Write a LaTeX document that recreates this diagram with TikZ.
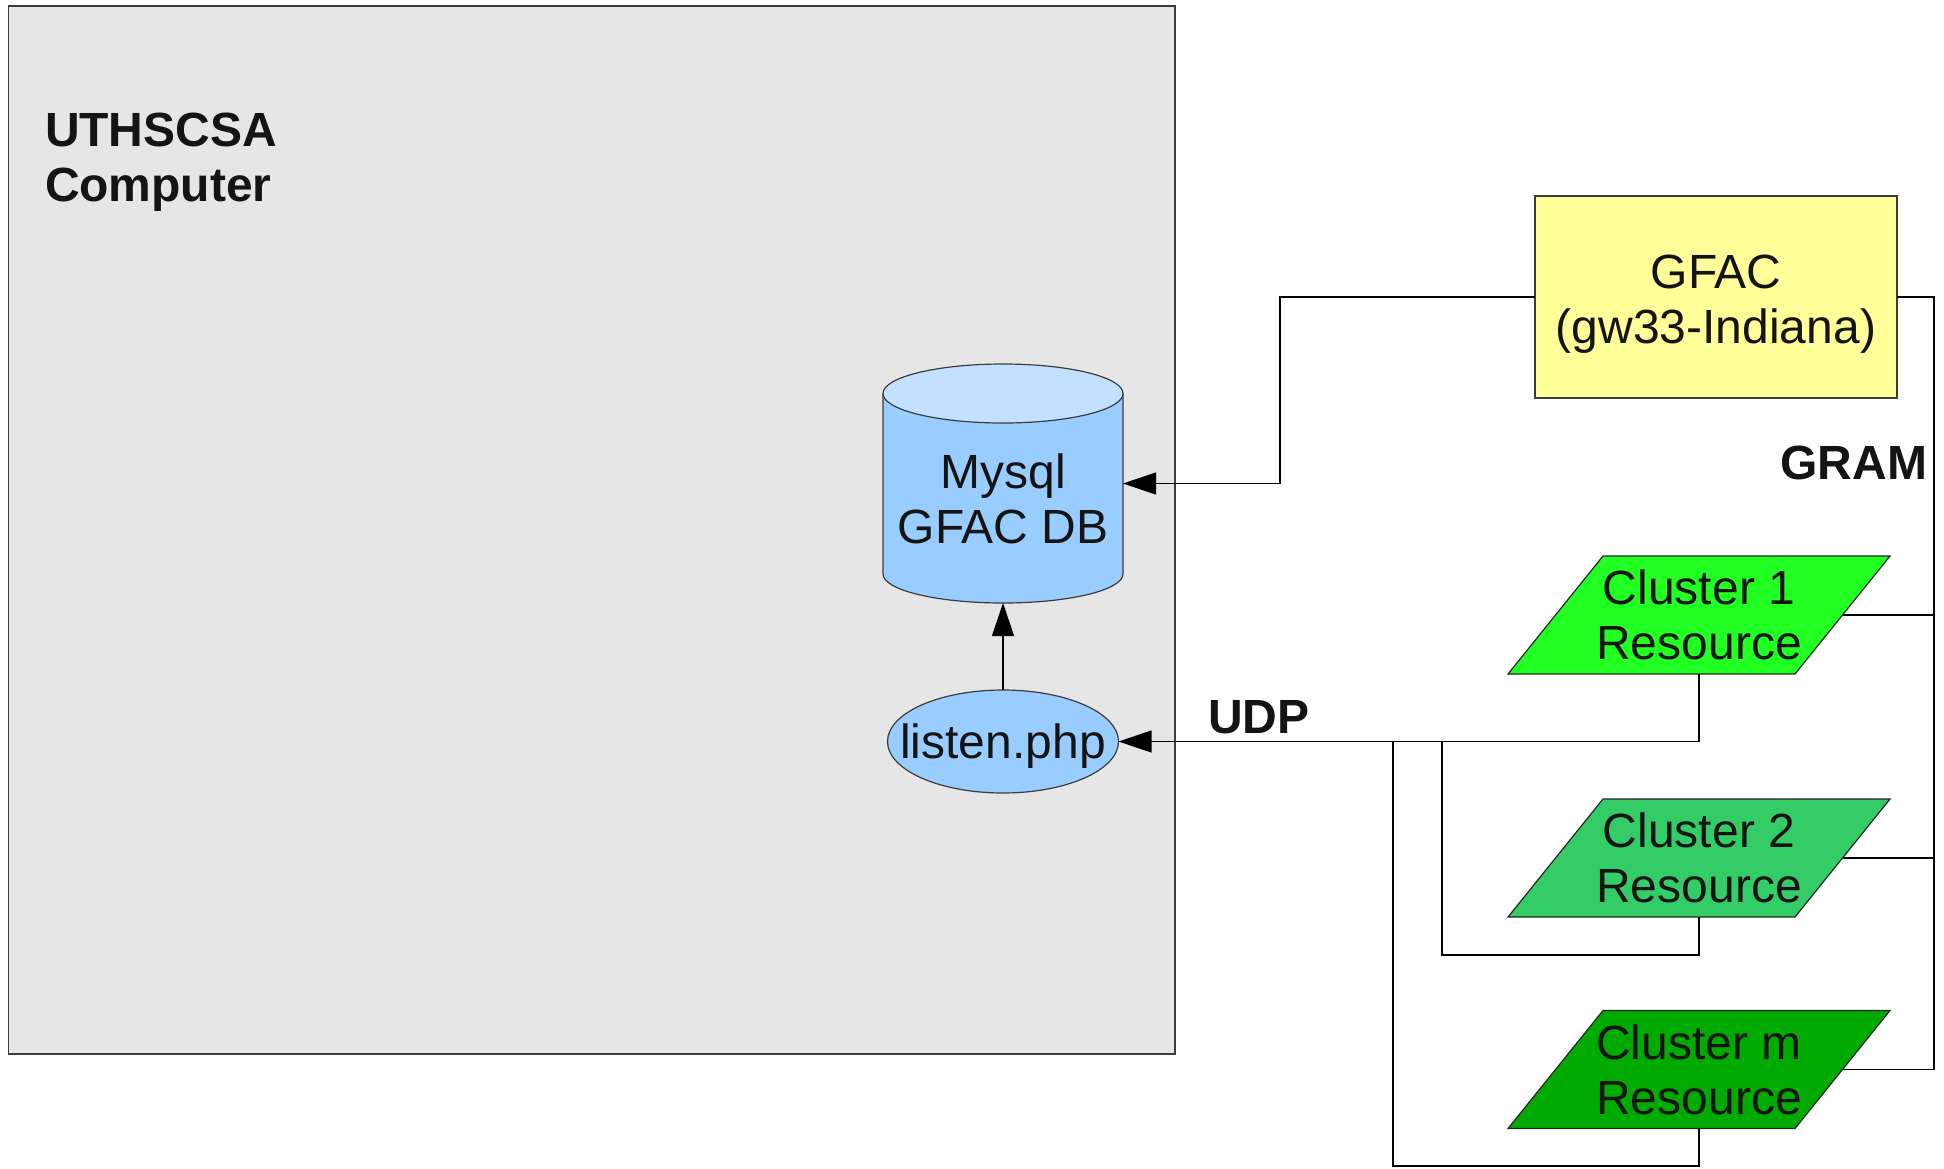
\documentclass[tikz,border=0pt]{standalone}
\usepackage{fontspec}
\setmainfont{Liberation Sans}
\usetikzlibrary{arrows.meta,calc,shapes.geometric}
\definecolor{boxgray}{HTML}{E6E6E6}
\definecolor{edgegray}{HTML}{3C3C3C}
\definecolor{dbblue}{HTML}{99CCFF}
\definecolor{dbtop}{HTML}{C2E0FF}
\definecolor{gfacyellow}{HTML}{FFFF99}
\definecolor{clgreenA}{HTML}{22FF22}
\definecolor{clgreenB}{HTML}{33CC66}
\definecolor{clgreenC}{HTML}{00AA00}
\definecolor{txtcol}{HTML}{141414}
\begin{document}
\begin{tikzpicture}[x=0.5pt, y=-0.5pt,
  every node/.style={inner sep=0pt, outer sep=0pt},
  lbl/.style={font=\fontsize{24}{27.5}\selectfont, align=center, text=txtcol},
  boldlbl/.style={font=\fontsize{24}{27.5}\selectfont\bfseries, text=txtcol},
  conn/.style={draw=black, line width=0.6pt},
  arr/.style={conn, -{Triangle[length=16.5pt, width=11pt]}},
  shapeedge/.style={draw=edgegray, line width=0.6pt},
  clus/.style={lbl, minimum width=143.5pt, minimum height=59pt},
]
\useasboundingbox (0,0) rectangle (1944,1168);

% UTHSCSA computer box
\node[shapeedge, fill=boxgray, minimum width=583.25pt, minimum height=524pt, anchor=north west] (uth) at (8.5,6) {};
\node[boldlbl, align=left, anchor=north west] (uthlbl) at (45,113) {UTHSCSA\\Computer};

% database cylinder
\node[minimum width=120pt, minimum height=119.5pt] (db) at (1003,483.5) {};
\fill[dbblue] (883,393.5) -- (883,574) arc[start angle=180, end angle=360, x radius=60pt, y radius=14.5pt] -- (1123,393.5) -- cycle;
\draw[shapeedge] (883,393.5) -- (883,574) arc[start angle=180, end angle=360, x radius=60pt, y radius=14.5pt] -- (1123,393.5);
\draw[shapeedge, fill=dbtop] (1003,393.5) ellipse [x radius=60pt, y radius=14.75pt];
\node[lbl] (dbtxt) at (1003,499) {Mysql\\GFAC DB};

% listen.php
\node[lbl, ellipse, shapeedge, fill=dbblue, minimum width=115.5pt, minimum height=51.5pt, text depth=0pt] (listen) at (1003,741.5) {\makebox[0pt]{listen.php}};

% GFAC
\node[lbl, shapeedge, fill=gfacyellow, minimum width=181pt, minimum height=101pt] (gfac) at (1716,297) {};
\node[lbl, yshift=-3.5pt] (gfactxt) at (gfac.center) {GFAC\\(gw33-Indiana)};

% labels
\node[boldlbl, anchor=east] (gram) at (1927,463) {GRAM};
\node[boldlbl, anchor=west] (udp) at (1208,717.5) {UDP};

% clusters
\foreach \n/\y/\c/\t in {c1/615/clgreenA/1, c2/858/clgreenB/2, cm/1069.5/clgreenC/m}{
  \begin{scope}[shift={(1699,\y)}]
    \filldraw[fill=\c, draw=black!85, line width=0.6pt] (-96,-59) -- (191,-59) -- (96,59) -- (-191,59) -- cycle;
  \end{scope}
  \node[clus] (\n) at (1699,\y) {Cluster \t\\Resource};
}

% connectors
\coordinate (gj) at (1280,297);
\draw[arr] (gfac.west) -- (gj) |- (db.east);
\draw[arr] (listen.north) -- (db.south);
\draw[arr] (c1.south) |- (listen.east);
\coordinate (k2) at (1442,955);
\draw[conn] (c2.south) |- (k2) -- (k2 |- listen.east);
\coordinate (k3) at (1393,1166);
\draw[conn] (cm.south) |- (k3) -- (k3 |- listen.east);
\coordinate (gr) at (1934,297);
\draw[conn] (gfac.east) -- (gr) |- (cm.east);
\draw[conn] (c1.east) -- (c1.east -| gr);
\draw[conn] (c2.east) -- (c2.east -| gr);
\end{tikzpicture}
\end{document}
